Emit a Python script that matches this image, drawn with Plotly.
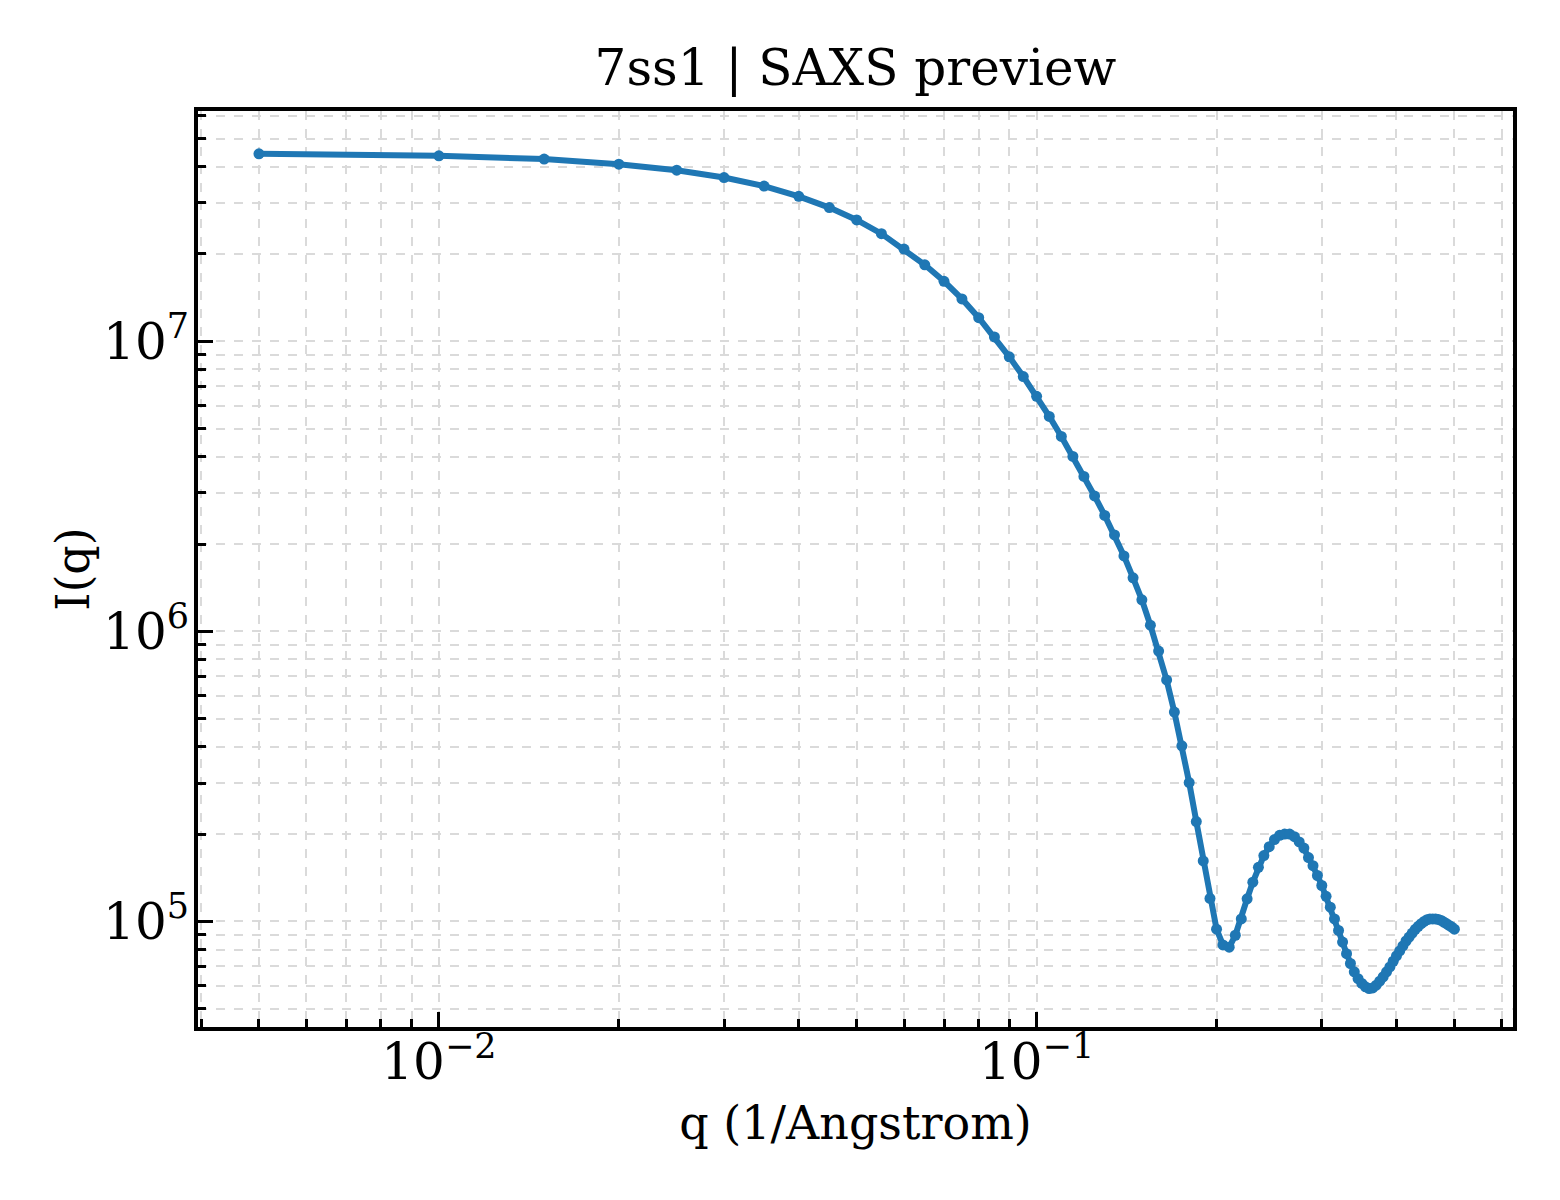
import plotly.graph_objects as go

# q in 1/Angstrom
q = [
    0.005, 0.010, 0.015, 0.020, 0.025, 0.030, 0.035, 0.040, 0.045, 0.050,
    0.055, 0.060, 0.065, 0.070, 0.075, 0.080, 0.085, 0.090, 0.095, 0.100,
    0.105, 0.110, 0.115, 0.120, 0.125, 0.130, 0.135, 0.140, 0.145, 0.150,
    0.155, 0.160, 0.165, 0.170, 0.175, 0.180, 0.185, 0.190, 0.195, 0.200,
    0.205, 0.210, 0.215, 0.220, 0.225, 0.230, 0.235, 0.240, 0.245, 0.250,
    0.255, 0.260, 0.265, 0.270, 0.275, 0.280, 0.285, 0.290, 0.295, 0.300,
    0.305, 0.310, 0.315, 0.320, 0.325, 0.330, 0.335, 0.340, 0.345, 0.350,
    0.355, 0.360, 0.365, 0.370, 0.375, 0.380, 0.385, 0.390, 0.395, 0.400,
    0.405, 0.410, 0.415, 0.420, 0.425, 0.430, 0.435, 0.440, 0.445, 0.450,
    0.455, 0.460, 0.465, 0.470, 0.475, 0.480, 0.485, 0.490, 0.495, 0.500,
]

# I(q)
intensity = [
    4.43e7, 4.36e7, 4.25e7, 4.08e7, 3.89e7, 3.67e7, 3.43e7, 3.16e7, 2.89e7, 2.62e7,
    2.35e7, 2.08e7, 1.835e7, 1.61e7, 1.40e7, 1.206e7, 1.035e7, 8.84e6, 7.56e6, 6.46e6,
    5.51e6, 4.70e6, 4.01e6, 3.42e6, 2.93e6, 2.51e6, 2.15e6, 1.82e6, 1.53e6, 1.285e6,
    1.05e6, 8.55e5, 6.8e5, 5.27e5, 4.03e5, 3.01e5, 2.21e5, 1.616e5, 1.2e5, 9.4e4,
    8.3e4, 8.15e4, 8.96e4, 1.02e5, 1.197e5, 1.366e5, 1.537e5, 1.687e5, 1.81e5, 1.915e5,
    1.98e5, 2.0e5, 2.0e5, 1.96e5, 1.88e5, 1.79e5, 1.66e5, 1.556e5, 1.44e5, 1.33e5,
    1.22e5, 1.12e5, 1.02e5, 9.31e4, 8.49e4, 7.74e4, 7.16e4, 6.70e4, 6.35e4, 6.11e4,
    5.95e4, 5.87e4, 5.9e4, 6.03e4, 6.22e4, 6.44e4, 6.7e4, 6.97e4, 7.29e4, 7.61e4,
    7.91e4, 8.23e4, 8.56e4, 8.83e4, 9.12e4, 9.39e4, 9.62e4, 9.82e4, 1.0e5, 1.014e5,
    1.02e5, 1.02e5, 1.02e5, 1.016e5, 1.008e5, 9.95e4, 9.82e4, 9.69e4, 9.56e4, 9.4e4,
]

FONT = "DejaVu Serif"
GRID = "#dadada"


def log_axis(title, rng, label_standoff, title_standoff):
    return dict(
        type="log",
        range=rng,
        dtick=1,
        exponentformat="power",
        showexponent="all",
        ticks="inside",
        ticklen=15,
        tickwidth=3,
        tickcolor="black",
        ticklabelstandoff=label_standoff,
        tickfont=dict(family=FONT, size=40, color="black"),
        showline=True,
        linecolor="black",
        linewidth=4,
        mirror=True,
        showgrid=True,
        gridcolor=GRID,
        gridwidth=1.5,
        griddash="dash",
        minor=dict(
            ticks="inside",
            ticklen=8,
            tickwidth=2.5,
            tickcolor="black",
            showgrid=True,
            gridcolor=GRID,
            gridwidth=1.5,
            griddash="dash",
        ),
        title=dict(
            text=title,
            standoff=title_standoff,
            font=dict(family=FONT, size=46, color="black"),
        ),
    )


fig = go.Figure()
fig.add_trace(
    go.Scatter(
        x=q,
        y=intensity,
        mode="lines+markers",
        line=dict(color="#1f77b4", width=6),
        marker=dict(color="#1f77b4", size=11),
    )
)

fig.update_layout(
    width=1560,
    height=1200,
    margin=dict(l=190, r=55, t=103, b=181),
    paper_bgcolor="white",
    plot_bgcolor="white",
    showlegend=False,
    title=dict(
        text="7ss1 | SAXS preview",
        font=dict(family=FONT, size=50, color="black"),
        x=0.5,
        xref="paper",
        xanchor="center",
        y=1 - 59 / 1200,
        yref="container",
        yanchor="middle",
    ),
    xaxis=log_axis("q (1/Angstrom)", [-2.403, -0.203], -10, 18),
    yaxis=log_axis("I(q)", [4.636, 7.794], -3, 0),
)

fig.write_html("out.html")
